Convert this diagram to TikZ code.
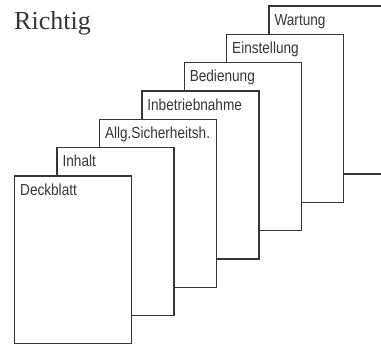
\documentclass[tikz,border=0pt]{standalone}
\usepackage{fontspec}
\setmainfont{Liberation Serif}
\newfontfamily\labfont[FakeStretch=0.85]{Liberation Sans}
\usetikzlibrary{calc}
\definecolor{ink}{HTML}{363636}
\tikzset{
  page/.style={draw=ink, line width=1.4pt, fill=white, rectangle, minimum width=117pt, minimum height=168pt, inner sep=0pt, anchor=north west},
  tablabel/.style={anchor=base west, inner sep=0pt, text=ink, font=\labfont\fontsize{16}{18}\selectfont},
  title/.style={anchor=base west, inner sep=0pt, text=ink, font=\fontsize{26}{30}\selectfont}
}
\begin{document}
\begin{tikzpicture}[x=1pt,y=-1pt]
\useasboundingbox (0,0) rectangle (381,344);
\clip (0,0) rectangle (381,344);
\node[title] (t) at (14,29.5) {Richtig};
\foreach \i/\name/\txt in {6/p6/Wartung,5/p5/Einstellung,4/p4/Bedienung,3/p3/Inbetriebnahme,2/p2/Allg.Sicherheitsh.,1/p1/Inhalt,0/p0/Deckblatt}{
  \node[page] (\name) at ({14+42.4*\i},{175.2-28.3*\i}) {};
  \node[tablabel] (l\name) at ($(\name.north west)+(6,20)$) {\txt};
}
\end{tikzpicture}
\end{document}
